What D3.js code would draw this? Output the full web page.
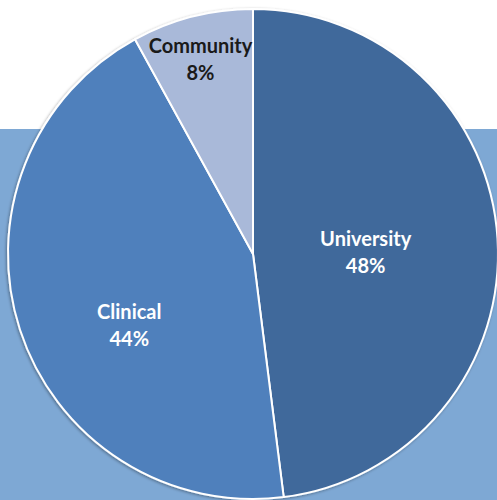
<html>
<head>
  <style>
  body {
    margin: 0;
    background: #fff;
    font-family: Lato, "Open Sans", sans-serif;
  }
  .label {
    font-weight: bold;
    font-size: 20px;
    text-anchor: middle;
  }
  </style>
</head>
<body>
<div id="chart"></div>
<script src="https://d3js.org/d3.v7.min.js"></script>
<script>
// slice data, clockwise from 12 o'clock
var categories = ["University", "Clinical", "Community"];
var shares = [48, 44, 8];
var sliceColors = ["#41699b", "#4f80bc", "#a9b9d9"];
var labelColors = ["#ffffff", "#ffffff", "#1a1a1a"];

var width = 497, height = 500;
var cx = 253, cy = 254, radius = 245;

var svg = d3.select("#chart")
  .append("svg")
    .attr("width", width)
    .attr("height", height);

// soft shadow under the pie
var defs = svg.append("defs");
var f = defs.append("filter").attr("id", "shadow")
  .attr("x", "-10%").attr("y", "-10%").attr("width", "120%").attr("height", "120%");
f.append("feDropShadow")
  .attr("dx", -1).attr("dy", 1).attr("stdDeviation", 1.5)
  .attr("flood-color", "#000").attr("flood-opacity", 0.35);

// background slide panel
svg.append("rect")
  .attr("x", 0).attr("y", 129)
  .attr("width", width).attr("height", height - 129)
  .attr("fill", "#7ea8d4");

var pie = d3.pie().sort(null).value(function(d){ return d; });
var arcs = pie(shares);

var arc = d3.arc().innerRadius(0).outerRadius(radius);

var g = svg.append("g")
  .attr("transform", "translate(" + cx + "," + cy + ")");

g.append("g").attr("filter", "url(#shadow)")
  .selectAll("path")
  .data(arcs)
  .enter()
  .append("path")
    .attr("d", arc)
    .attr("fill", function(d, i){ return sliceColors[i]; })
    .attr("stroke", "#fff")
    .attr("stroke-width", 2)
    .attr("stroke-linejoin", "round");

// label placement roughly where excel put them
function labelPos(d) {
  var frac = (d.endAngle - d.startAngle) / (2 * Math.PI);
  var mid = (d.startAngle + d.endAngle) / 2;
  var r;
  if (frac < 0.1) {            // small slice: push out toward rim
    mid -= 0.01;
    r = radius * 0.83;
  } else if (mid > Math.PI) {  // left big slice
    mid -= 0.2;
    r = radius * 0.58;
  } else {                     // right big slice
    mid += 0.035;
    r = radius * 0.46;
  }
  return [Math.sin(mid) * r, -Math.cos(mid) * r];
}

var labels = g.selectAll(".label")
  .data(arcs)
  .enter()
  .append("text")
    .attr("class", "label")
    .attr("fill", function(d, i){ return labelColors[i]; })
    .attr("transform", function(d){
      var p = labelPos(d);
      return "translate(" + p[0] + "," + p[1] + ")";
    });

labels.append("tspan")
  .attr("x", 0).attr("dy", "-0.25em")
  .text(function(d, i){ return categories[i]; });
labels.append("tspan")
  .attr("x", 0).attr("dy", "1.37em")
  .text(function(d){ return d.data + "%"; });
</script>
</body>
</html>
